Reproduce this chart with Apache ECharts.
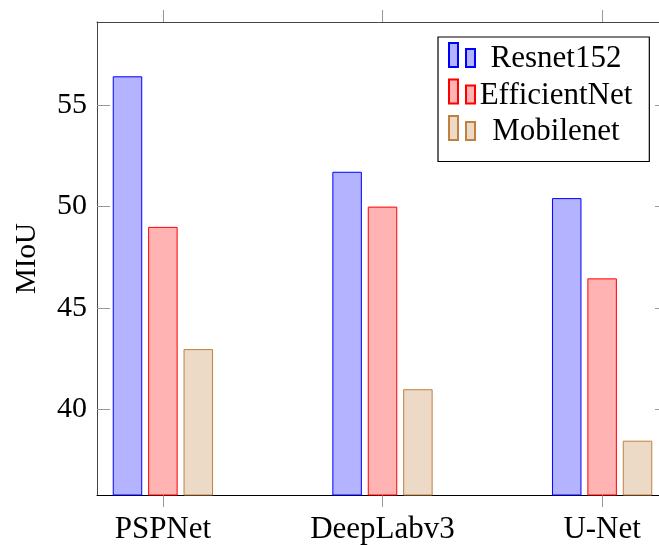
<!DOCTYPE html>
<html>
<head>
<meta charset="utf-8">
<script src="https://cdn.jsdelivr.net/npm/echarts@6/dist/echarts.min.js"></script>
<style>html,body{margin:0;padding:0;background:#fff;}#c{width:659px;height:545px;}</style>
</head>
<body>
<div id="c"></div>
<script>
var categories = ['PSPNet', 'DeepLabv3', 'U-Net'];
var resnet152 = [56.43, 51.72, 50.42];
var efficientNet = [49.0, 50.0, 46.46];
var mobilenet = [42.97, 40.99, 38.45];
var yTicks = [40, 45, 50, 55];
var seriesNames = ['Resnet152', 'EfficientNet', 'Mobilenet'];

function pairs(arr) { return arr.map(function (v, i) { return [i, v]; }); }
var font = '"Liberation Serif", "DejaVu Serif", serif';
var icon = 'path://M0,0 h9 v24 h-9 Z M17,6 h9 v18 h-9 Z';

var chart = echarts.init(document.getElementById('c'), null, {renderer: 'canvas'});
var fills = ['#b3b3ff', '#ffb3b3', '#ecd9c6'];
var borders = ['#0000ff', '#ff0000', '#bf8040'];
var datas = [resnet152, efficientNet, mobilenet];

chart.setOption({
  animation: false,
  backgroundColor: '#fff',
  textStyle: {fontFamily: font},
  grid: {left: 97, width: 571, top: 22, bottom: 50, containLabel: false, outerBoundsMode: 'none'},
  legend: {
    orient: 'vertical',
    left: 438, top: 37,
    padding: [2, 17, 14, 10],
    itemWidth: 26, itemHeight: 24, itemGap: 1,
    borderColor: '#000', borderWidth: 1.2,
    backgroundColor: '#fff',
    icon: icon,
    formatter: function (n) { return '{a|' + n + '}'; },
    textStyle: {
      fontFamily: font, color: '#000',
      rich: {a: {fontFamily: font, fontSize: 31, width: 152, align: 'center', lineHeight: 24, height: 24, padding: [8, 0, 0, 0], color: '#000'}}
    },
    data: seriesNames
  },
  xAxis: [{
    type: 'value', min: -0.3, max: 2.3, position: 'bottom',
    splitLine: {show: false},
    axisLine: {show: true, onZero: false, lineStyle: {color: '#000', width: 1}},
    axisTick: {show: true, inside: false, length: 12, customValues: [0, 1, 2], lineStyle: {color: '#999', width: 1}},
    axisLabel: {show: true, customValues: [0, 1, 2], margin: 19, fontSize: 31, fontFamily: font, color: '#000',
      formatter: function (v) { return categories[Math.round(v)]; }}
  }, {
    type: 'value', min: -0.3, max: 2.3, position: 'top',
    splitLine: {show: false},
    axisLine: {show: true, onZero: false, lineStyle: {color: '#444', width: 1}},
    axisTick: {show: true, inside: false, length: 12, customValues: [0, 1, 2], lineStyle: {color: '#999', width: 1}},
    axisLabel: {show: false}
  }],
  yAxis: [{
    type: 'value', min: 35.77, max: 59.11, position: 'left',
    name: 'MIoU', nameLocation: 'middle', nameGap: 55, nameRotate: 90,
    nameTextStyle: {fontSize: 29, fontFamily: font, color: '#000'},
    splitLine: {show: false},
    axisLine: {show: true, onZero: false, lineStyle: {color: '#444', width: 1}},
    axisTick: {show: true, inside: true, length: 13, customValues: yTicks, lineStyle: {color: '#999', width: 1}},
    axisLabel: {show: true, customValues: yTicks, margin: 10, fontSize: 30, fontFamily: font, color: '#000'}
  }, {
    type: 'value', min: 35.77, max: 59.11, position: 'right',
    splitLine: {show: false},
    axisLine: {show: true, onZero: false, lineStyle: {color: '#444', width: 1}},
    axisTick: {show: true, inside: true, length: 13, customValues: yTicks, lineStyle: {color: '#999', width: 1}},
    axisLabel: {show: false}
  }],
  series: seriesNames.map(function (n, k) {
    return {
      name: n, type: 'bar', xAxisIndex: 0, yAxisIndex: 0,
      barWidth: 29.5, barGap: '20%',
      itemStyle: {color: fills[k], borderColor: borders[k], borderWidth: 1},
      data: pairs(datas[k])
    };
  })
});
</script>
</body>
</html>
